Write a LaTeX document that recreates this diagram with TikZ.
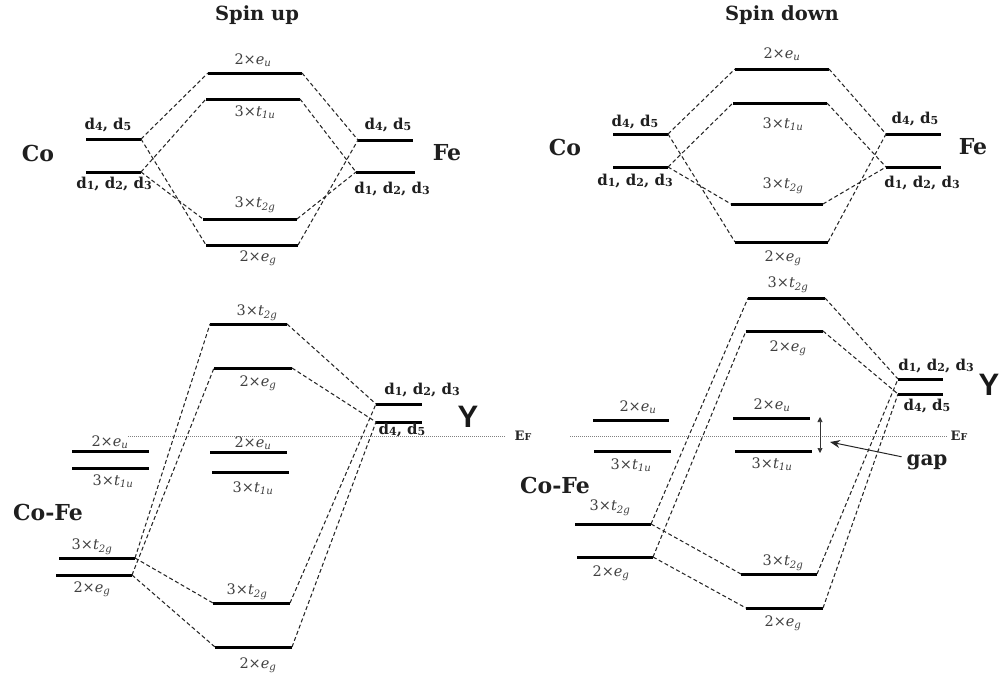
\documentclass[tikz,border=0pt]{standalone}
\usepackage{fontspec}
\setmainfont{DejaVu Serif}
\newfontfamily\ysans{Liberation Sans}
\usetikzlibrary{arrows.meta}

% an energy level: a thick bar with named end points <name>l and <name>r
\newcommand\mklevel[4]{\draw[levline] (#2,#4) coordinate (#1l) -- (#3,#4) coordinate (#1r);}
% orbital labels
\newcommand\lbEu{2×\textit{e}\textsubscript{\textit{u}}}
\newcommand\lbTu{3×\textit{t}\textsubscript{\textit{1u}}}
\newcommand\lbTg{3×\textit{t}\textsubscript{\textit{2g}}}
\newcommand\lbEg{2×\textit{e}\textsubscript{\textit{g}}}
\newcommand\dsub[1]{d\raisebox{-1pt}{\fontsize{11}{11}\selectfont#1}}
\newcommand\dlow{\dsub1, \dsub2, \dsub3}
\newcommand\dhigh{\dsub4, \dsub5}
\newcommand\fermi{E\raisebox{-0.5pt}{\fontsize{9.5}{9.5}\selectfont F}}

\tikzset{
  levline/.style={line width=3pt, black},
  conn/.style={line width=1.05pt, black!85, dash pattern=on 4pt off 2.6pt},
  lab/.style={font=\fontsize{14.5}{14.5}\selectfont, text=black!75, inner sep=0pt},
  blab/.style={font=\bfseries\fontsize{15}{15}\selectfont, text=black!88, inner sep=0pt},
  atom/.style={font=\bfseries\fontsize{22}{22}\selectfont, text=black!88, inner sep=0pt},
  ttl/.style={font=\bfseries\fontsize{19.5}{19.5}\selectfont, text=black!88, inner sep=0pt},
  efline/.style={line width=0.8pt, black!50, dash pattern=on 1pt off 1pt},
  eflab/.style={font=\bfseries\fontsize{13}{13}\selectfont, text=black!85, inner sep=0pt},
  ylab/.style={font=\ysans\bfseries\fontsize{31}{31}\selectfont, text=black!90, inner sep=0pt},
}

\begin{document}
\begin{tikzpicture}[x=1pt, y=-1pt]
\useasboundingbox (0,0) rectangle (1001,675);

% ---------------- Spin up, upper panel ----------------
\node[ttl] (tlTitle) at (257,15) {Spin up};
\node[atom] (tlCo) at (38,153) {Co};
\node[atom] (tlFe) at (447,153) {Fe};
\mklevel{tlCoA}{86}{141}{139}
\mklevel{tlCoB}{86}{141}{172}
\mklevel{tlEu}{208}{302}{73}
\mklevel{tlTu}{206}{300}{99}
\mklevel{tlTg}{203}{297}{219}
\mklevel{tlEg}{206}{298}{245}
\mklevel{tlFeA}{358}{413}{140}
\mklevel{tlFeB}{356}{415}{172}
\node[blab] (tlCoAt) at (108,125) {\dhigh};
\node[blab] (tlCoBt) at (114,184) {\dlow};
\node[blab] (tlFeAt) at (388,125) {\dhigh};
\node[blab] (tlFeBt) at (392,189) {\dlow};
\node[lab] (tlEut) at (253,60) {\lbEu};
\node[lab] (tlTut) at (255,112) {\lbTu};
\node[lab] (tlTgt) at (255,205) {\lbTg};
\node[lab] (tlEgt) at (258,258) {\lbEg};
\draw[conn] (tlCoAr) -- (tlEul);
\draw[conn] (tlCoAr) -- (tlEgl);
\draw[conn] (tlCoBr) -- (tlTul);
\draw[conn] (tlCoBr) -- (tlTgl);
\draw[conn] (tlEur) -- (tlFeAl);
\draw[conn] (tlEgr) -- (tlFeAl);
\draw[conn] (tlTur) -- (tlFeBl);
\draw[conn] (tlTgr) -- (tlFeBl);

% ---------------- Spin down, upper panel ----------------
\node[ttl] (trTitle) at (782,15) {Spin down};
\node[atom] (trCo) at (565,147) {Co};
\node[atom] (trFe) at (973,147) {Fe};
\mklevel{trCoA}{613}{668}{134}
\mklevel{trCoB}{613}{668}{167}
\mklevel{trEu}{735}{829}{69}
\mklevel{trTu}{733}{827}{103}
\mklevel{trTg}{731}{823}{204}
\mklevel{trEg}{735}{828}{242}
\mklevel{trFeA}{886}{941}{134}
\mklevel{trFeB}{886}{941}{167}
\node[blab] (trCoAt) at (635,122) {\dhigh};
\node[blab] (trCoBt) at (635,181) {\dlow};
\node[blab] (trFeAt) at (915,119) {\dhigh};
\node[blab] (trFeBt) at (922,183) {\dlow};
\node[lab] (trEut) at (782,54) {\lbEu};
\node[lab] (trTut) at (783,124) {\lbTu};
\node[lab] (trTgt) at (783,186) {\lbTg};
\node[lab] (trEgt) at (783,258) {\lbEg};
\draw[conn] (trCoAr) -- (trEul);
\draw[conn] (trCoAr) -- (trEgl);
\draw[conn] (trCoBr) -- (trTul);
\draw[conn] (trCoBr) -- (trTgl);
\draw[conn] (trEur) -- (trFeAl);
\draw[conn] (trEgr) -- (trFeAl);
\draw[conn] (trTur) -- (trFeBl);
\draw[conn] (trTgr) -- (trFeBl);

% ---------------- Spin up, lower panel ----------------
\coordinate (blEFa) at (128,436);
\coordinate (blEFb) at (505,436);
\draw[efline] (blEFa) -- (blEFb);
\node[eflab] (blEF) at (523,436) {\fermi};
\node[atom] (blCoFe) at (48,512) {Co-Fe};
\node[ylab] (blY) at (468,417) {Y};
\mklevel{blAt}{210}{287}{324}
\mklevel{blAe}{214}{292}{368}
\mklevel{blYA}{376}{422}{404}
\mklevel{blYB}{376}{422}{422}
\mklevel{blLeu}{72}{149}{451}
\mklevel{blLtu}{72}{149}{468}
\mklevel{blMeu}{210}{287}{452}
\mklevel{blMtu}{212}{289}{472}
\mklevel{blLt}{59}{135}{558}
\mklevel{blLe}{56}{132}{575}
\mklevel{blBt}{213}{290}{603}
\mklevel{blBe}{215}{292}{647}
\node[lab] (blAtt) at (257,313) {\lbTg};
\node[lab] (blAet) at (258,383) {\lbEg};
\node[blab] (blYAt) at (422,390) {\dlow};
\node[blab] (blYBt) at (402,430) {\dhigh};
\node[lab] (blLeut) at (110,442) {\lbEu};
\node[lab] (blLtut) at (113,481) {\lbTu};
\node[lab] (blMeut) at (253,443) {\lbEu};
\node[lab] (blMtut) at (253,488) {\lbTu};
\node[lab] (blLtt) at (92,547) {\lbTg};
\node[lab] (blLet) at (92,589) {\lbEg};
\node[lab] (blBtt) at (247,592) {\lbTg};
\node[lab] (blBet) at (258,665) {\lbEg};
\draw[conn] (blLtr) -- (blAtl);
\draw[conn] (blLer) -- (blAel);
\draw[conn] (blLtr) -- (blBtl);
\draw[conn] (blLer) -- (blBel);
\draw[conn] (blAtr) -- (blYAl);
\draw[conn] (blAer) -- (blYBl);
\draw[conn] (blBtr) -- (blYAl);
\draw[conn] (blBer) -- (blYBl);

% ---------------- Spin down, lower panel ----------------
\coordinate (brEFa) at (570,436);
\coordinate (brEFb) at (947,436);
\draw[efline] (brEFa) -- (brEFb);
\node[eflab] (brEF) at (959,436) {\fermi};
\node[atom] (brCoFe) at (555,485) {Co-Fe};
\node[ylab] (brY) at (989,385) {Y};
\mklevel{brAt}{748}{825}{298}
\mklevel{brAe}{746}{823}{331}
\mklevel{brYA}{898}{943}{379}
\mklevel{brYB}{898}{943}{394}
\mklevel{brLeu}{593}{669}{420}
\mklevel{brLtu}{594}{671}{451}
\mklevel{brMeu}{733}{810}{418}
\mklevel{brMtu}{735}{812}{451}
\mklevel{brLt}{575}{651}{524}
\mklevel{brLe}{577}{653}{557}
\mklevel{brBt}{741}{817}{574}
\mklevel{brBe}{746}{823}{608}
\node[lab] (brAtt) at (788,285) {\lbTg};
\node[lab] (brAet) at (788,348) {\lbEg};
\node[blab] (brYAt) at (936,366) {\dlow};
\node[blab] (brYBt) at (927,406) {\dhigh};
\node[lab] (brLeut) at (638,407) {\lbEu};
\node[lab] (brLtut) at (631,465) {\lbTu};
\node[lab] (brMeut) at (772,405) {\lbEu};
\node[lab] (brMtut) at (772,464) {\lbTu};
\node[lab] (brLtt) at (610,508) {\lbTg};
\node[lab] (brLet) at (611,573) {\lbEg};
\node[lab] (brBtt) at (783,563) {\lbTg};
\node[lab] (brBet) at (783,623) {\lbEg};
\draw[conn] (brLtr) -- (brAtl);
\draw[conn] (brLer) -- (brAel);
\draw[conn] (brLtr) -- (brBtl);
\draw[conn] (brLer) -- (brBel);
\draw[conn] (brAtr) -- (brYAl);
\draw[conn] (brAer) -- (brYBl);
\draw[conn] (brBtr) -- (brYAl);
\draw[conn] (brBer) -- (brYBl);

% band gap marker
\coordinate (gapTop) at (820,417);
\coordinate (gapBot) at (820,453);
\draw[line width=0.6pt, black!80, {Triangle[length=5pt,width=5pt]}-{Triangle[length=5pt,width=5pt]}] (gapTop) -- (gapBot);
\node[font=\bfseries\fontsize{20}{20}\selectfont, text=black!88, inner sep=0pt, outer sep=5pt] (gapLab) at (927,462) {gap};
\coordinate (gapTip) at (830,442);
\draw[line width=1pt, black!85, -{Stealth[length=10pt,width=8pt]}] (gapLab) -- (gapTip);
\end{tikzpicture}
\end{document}
